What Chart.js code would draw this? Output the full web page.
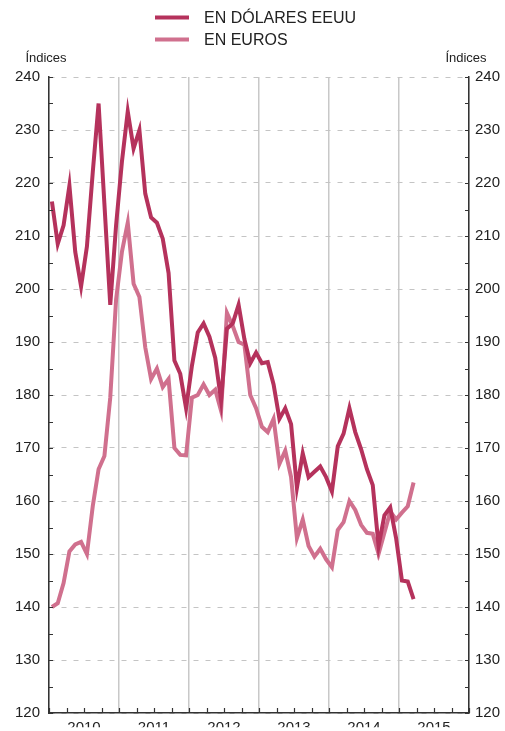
<!DOCTYPE html>
<html>
<head>
<meta charset="utf-8">
<script src="https://cdn.jsdelivr.net/npm/chart.js@4.4.0/dist/chart.umd.min.js"></script>
<style>
  html, body { margin: 0; padding: 0; background: #fff; overflow: hidden; }
  #wrap { width: 505px; height: 731px; position: relative; }
</style>
</head>
<body>
<div id="wrap"><canvas id="chart" width="505" height="731"></canvas></div>
<script>
// Datos: índices mensuales, enero 2010 - marzo 2015
const years = ['2010', '2011', '2012', '2013', '2014', '2015'];
const seriesNames = ['EN DÓLARES EEUU', 'EN EUROS'];
const axisTitle = 'Índices';

const dollarValues = [
  216.5, 208.5, 212, 219.5, 207, 200.5, 208, 222, 235, 216, 197, 212,
  224, 233.5, 226.5, 230, 218, 213.5, 212.5, 209.5, 203, 186.5, 184, 177.5,
  185.5, 191.8, 193.5, 191, 187, 179, 192.5, 193.5, 197, 190.5, 186, 188,
  186, 186.2, 182, 175.5, 177.5, 174.5, 162.5, 169, 164.5, 165.5, 166.5, 164.5,
  161.8, 170.3, 172.7, 177.5, 173, 169.8, 166, 163, 151.5, 157.3, 158.8, 153,
  145, 144.8, 141.5
];
const euroValues = [
  140, 140.7, 144.5, 150.5, 151.8, 152.3, 150, 159, 166, 168.5, 179.5, 198,
  207, 212.5, 201, 198.5, 189, 183, 185, 181.5, 183, 170, 168.7, 168.6,
  179.5, 180, 182, 180, 181, 177, 195.5, 193, 190, 189.5, 180, 177.5,
  174, 173, 175.5, 167, 169.5, 164.5, 153, 156.5, 151.5, 149.5, 151, 149,
  147.5, 154.5, 156, 160, 158.3, 155.5, 154, 153.8, 150, 154, 158, 156.5,
  157.8, 159, 163.5
];

const colors = ['#b5325c', '#d0708e'];
const FONT = '"Liberation Sans", Arial, Helvetica, sans-serif';
const TEXT = '#222';
const AXIS = '#333';

// marcas interiores en los ejes, leyenda y títulos
const decorations = {
  id: 'decorations',
  afterDraw(chart) {
    const { ctx, chartArea: a, scales } = chart;
    const x = scales.x, y = scales.y;
    ctx.save();
    ctx.strokeStyle = AXIS;
    ctx.lineWidth = 1.2;
    ctx.beginPath();
    for (let v = 120; v <= 240; v += 5) {
      const py = Math.round(y.getPixelForValue(v)) + 0.5;
      ctx.moveTo(a.left, py); ctx.lineTo(a.left + 4, py);
      ctx.moveTo(a.right - 4, py); ctx.lineTo(a.right, py);
    }
    for (let m = -0.5; m <= 71.5; m += 3) {
      const px = Math.round(x.getPixelForValue(m)) + 0.5;
      ctx.moveTo(px, a.bottom); ctx.lineTo(px, a.bottom - 5);
    }
    ctx.stroke();

    // leyenda
    ctx.lineWidth = 4;
    ctx.font = '16px ' + FONT;
    ctx.fillStyle = TEXT;
    ctx.textBaseline = 'middle';
    ctx.textAlign = 'left';
    seriesNames.forEach((name, i) => {
      const ly = 17.5 + i * 22;
      ctx.strokeStyle = colors[i];
      ctx.beginPath();
      ctx.moveTo(155, ly); ctx.lineTo(189, ly);
      ctx.stroke();
      ctx.fillText(name, 204, ly + 1);
    });

    // títulos de los ejes
    ctx.font = '13px ' + FONT;
    ctx.textAlign = 'center';
    ctx.fillText(axisTitle, 46, 58.5);
    ctx.fillText(axisTitle, 466, 58.5);
    ctx.restore();
  }
};

new Chart(document.getElementById('chart').getContext('2d'), {
  type: 'line',
  data: {
    datasets: [
      {
        label: seriesNames[0],
        data: dollarValues.map((v, i) => ({ x: i, y: v })),
        borderColor: colors[0],
        borderWidth: 4,
        pointRadius: 0,
        tension: 0,
        fill: false
      },
      {
        label: seriesNames[1],
        data: euroValues.map((v, i) => ({ x: i, y: v })),
        borderColor: colors[1],
        borderWidth: 4,
        pointRadius: 0,
        tension: 0,
        fill: false
      }
    ]
  },
  options: {
    responsive: false,
    animation: false,
    layout: { padding: { top: 77, left: 0, right: 0, bottom: 0 } },
    plugins: {
      legend: { display: false },
      tooltip: { enabled: false }
    },
    scales: {
      x: {
        type: 'linear',
        min: -0.5,
        max: 71.5,
        afterBuildTicks: s => { s.ticks = years.map((yr, i) => ({ value: i * 12 + 5.5 })); },
        afterFit: s => { s.height = 14.3; },
        ticks: {
          callback: (v, i) => years[i],
          font: { family: FONT, size: 15 },
          color: TEXT,
          padding: 6,
          maxRotation: 0,
          autoSkip: false
        },
        grid: { offset: true, color: '#c8c8c8', lineWidth: 1.5, drawTicks: false },
        border: { color: AXIS, width: 1.5 }
      },
      y: {
        position: 'left',
        min: 120,
        max: 240,
        afterFit: s => { s.width = 49; },
        ticks: { stepSize: 10, font: { family: FONT, size: 15 }, color: TEXT, padding: 9 },
        grid: { color: '#c4c4c4', lineWidth: 1, drawTicks: false },
        border: { color: AXIS, width: 1.5, dash: [5, 7] }
      },
      y2: {
        position: 'right',
        min: 120,
        max: 240,
        afterFit: s => { s.width = 36; },
        ticks: { stepSize: 10, font: { family: FONT, size: 15 }, color: TEXT, padding: 6 },
        grid: { drawOnChartArea: false, drawTicks: false },
        border: { color: AXIS, width: 1.5 }
      }
    }
  },
  plugins: [decorations]
});
</script>
</body>
</html>
